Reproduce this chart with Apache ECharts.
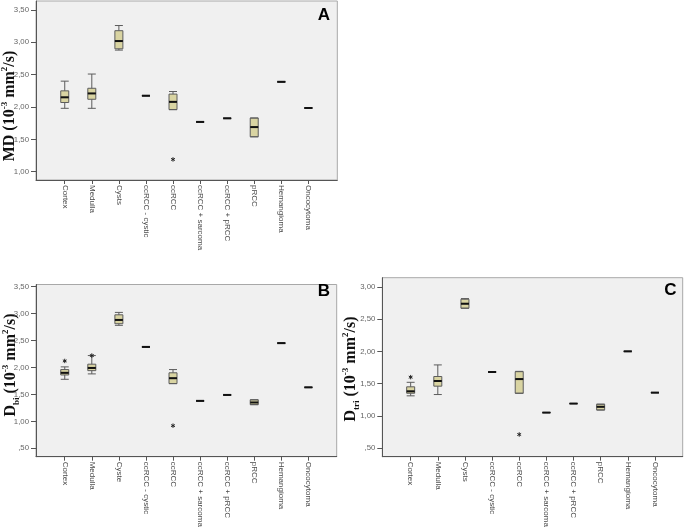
<!DOCTYPE html>
<html>
<head>
<meta charset="utf-8">
<script src="https://cdn.jsdelivr.net/npm/echarts@6/dist/echarts.min.js"></script>
<style>
html,body{margin:0;padding:0;background:#fff;}
#chart{width:685px;height:530px;}
</style>
</head>
<body>
<div id="chart"></div>
<script>
// ---- Data ----
var categoriesA = ['Cortex','Medulla','Cysts','ccRCC - cystic','ccRCC','ccRCC + sarcoma','ccRCC + pRCC','pRCC','Hemangioma','Oncocytoma'];
var categoriesB = ['Cortex','Medulla','Cyste','ccRCC - cystic','ccRCC','ccRCC + sarcoma','ccRCC + pRCC','pRCC','Hemangioma','Oncocytoma'];
var categoriesC = ['Cortex','Medulla','Cysts','ccRCC - cystic','ccRCC','ccRCC + sarcoma','ccRCC + pRCC','pRCC','Hemangioma','Oncocytoma'];

// [min, Q1, median, Q3, max]
var mdBoxes = [
  [1.98, 2.07, 2.15, 2.25, 2.40],
  [1.98, 2.12, 2.21, 2.29, 2.51],
  [2.88, 2.90, 3.02, 3.18, 3.26],
  [2.175, 2.175, 2.175, 2.175, 2.175],
  [1.96, 1.96, 2.08, 2.20, 2.24],
  [1.77, 1.77, 1.77, 1.77, 1.77],
  [1.825, 1.825, 1.825, 1.825, 1.825],
  [1.54, 1.54, 1.69, 1.83, 1.83],
  [2.39, 2.39, 2.39, 2.39, 2.39],
  [1.985, 1.985, 1.985, 1.985, 1.985]
];
var mdOutliers = [[4, 1.19]];

var dbiBoxes = [
  [1.78, 1.86, 1.90, 1.96, 2.01],
  [1.88, 1.94, 1.99, 2.06, 2.22],
  [2.78, 2.81, 2.88, 2.975, 3.02],
  [2.38, 2.38, 2.38, 2.38, 2.38],
  [1.70, 1.70, 1.80, 1.90, 1.96],
  [1.38, 1.38, 1.38, 1.38, 1.38],
  [1.49, 1.49, 1.49, 1.49, 1.49],
  [1.31, 1.31, 1.35, 1.40, 1.40],
  [2.45, 2.45, 2.45, 2.45, 2.45],
  [1.63, 1.63, 1.63, 1.63, 1.63]
];
var dbiOutliers = [[0, 2.12], [1, 2.22], [4, 0.92]];

var dtriBoxes = [
  [1.31, 1.35, 1.38, 1.45, 1.52],
  [1.33, 1.46, 1.54, 1.61, 1.79],
  [2.67, 2.67, 2.74, 2.81, 2.82],
  [1.68, 1.68, 1.68, 1.68, 1.68],
  [1.35, 1.35, 1.57, 1.685, 1.69],
  [1.05, 1.05, 1.05, 1.05, 1.05],
  [1.19, 1.19, 1.19, 1.19, 1.19],
  [1.09, 1.09, 1.14, 1.18, 1.18],
  [2.00, 2.00, 2.00, 2.00, 2.00],
  [1.36, 1.36, 1.36, 1.36, 1.36]
];
var dtriOutliers = [[0, 1.60], [4, 0.71]];

var ticksA = [1.0, 1.5, 2.0, 2.5, 3.0, 3.5];
var ticksB = [0.5, 1.0, 1.5, 2.0, 2.5, 3.0, 3.5];
var ticksC = [0.5, 1.0, 1.5, 2.0, 2.5, 3.0];

// ---- Layout ----
var panels = [
  { cats: categoriesA, boxes: mdBoxes, outliers: mdOutliers, ticks: ticksA,
    frame: {left: 36, top: 1, width: 301.3, height: 179}, inner: {left: 51.2, width: 270.7},
    min: 0.872, max: 3.639 },
  { cats: categoriesB, boxes: dbiBoxes, outliers: dbiOutliers, ticks: ticksB,
    frame: {left: 36, top: 284.5, width: 300.7, height: 172.2}, inner: {left: 51.2, width: 270.7},
    min: 0.345, max: 3.537 },
  { cats: categoriesC, boxes: dtriBoxes, outliers: dtriOutliers, ticks: ticksC,
    frame: {left: 382.3, top: 277.7, width: 300.4, height: 179}, inner: {left: 397.1, width: 271.4},
    min: 0.365, max: 3.144 }
];

var LABEL_FONT = 'Liberation Sans, Arial, sans-serif';
function fmt(v) {
  var s = v.toFixed(2).replace('.', ',');
  if (s.indexOf('0,') === 0) s = s.substring(1);
  return s;
}

var grids = [], xAxes = [], yAxes = [], series = [];
panels.forEach(function (p, i) {
  var fi = 2 * i, bi = 2 * i + 1;
  grids.push({
    left: p.frame.left, top: p.frame.top, width: p.frame.width, height: p.frame.height,
    show: true, backgroundColor: '#f0f0f0', borderColor: '#a8a8a8', borderWidth: 1,
    containLabel: false, outerBoundsMode: 'none'
  });
  grids.push({
    left: p.inner.left, top: p.frame.top, width: p.inner.width, height: p.frame.height,
    show: false, containLabel: false, outerBoundsMode: 'none'
  });
  xAxes.push({
    gridIndex: fi, type: 'value', min: 0, max: 1,
    axisLine: {show: true, lineStyle: {color: '#555', width: 1}},
    axisTick: {show: false}, axisLabel: {show: false}, splitLine: {show: false}
  });
  xAxes.push({
    gridIndex: bi, type: 'category', data: p.cats, boundaryGap: true,
    axisLine: {show: false},
    axisTick: {show: true, alignWithLabel: true, interval: 0, length: 4, lineStyle: {color: '#555'}},
    axisLabel: {show: true, interval: 0, rotate: -90, margin: 5, fontSize: 8,
      color: '#4a4a4a', fontFamily: LABEL_FONT},
    splitLine: {show: false}
  });
  yAxes.push({
    gridIndex: fi, type: 'value', min: p.min, max: p.max,
    axisLine: {show: true, lineStyle: {color: '#555', width: 1}},
    axisTick: {show: true, customValues: p.ticks, length: 5, lineStyle: {color: '#555'}},
    axisLabel: {show: true, customValues: p.ticks, margin: 7, fontSize: 7.8, color: '#666',
      fontFamily: LABEL_FONT, formatter: fmt},
    splitLine: {show: false}
  });
  yAxes.push({
    gridIndex: bi, type: 'value', min: p.min, max: p.max, show: false,
    splitLine: {show: false}
  });
  series.push({
    type: 'boxplot', xAxisIndex: bi, yAxisIndex: bi,
    data: p.boxes, boxWidth: [8, 8],
    itemStyle: {color: '#d9d4a2', borderColor: '#5c5c5c', borderWidth: 1},
    emphasis: {disabled: true}, silent: true, z: 2
  });
  series.push({
    type: 'custom', xAxisIndex: bi, yAxisIndex: bi, silent: true, z: 3,
    data: p.boxes.map(function (b, k) { return [k, b[2]]; }),
    renderItem: function (params, api) {
      var c = api.coord([api.value(0), api.value(1)]);
      return {type: 'line', shape: {x1: c[0] - 4, y1: c[1], x2: c[0] + 4, y2: c[1]},
        style: {stroke: '#111', lineWidth: 2}};
    }
  });
  series.push({
    type: 'custom', xAxisIndex: bi, yAxisIndex: bi, silent: true, z: 4,
    data: p.outliers,
    renderItem: function (params, api) {
      var c = api.coord([api.value(0), api.value(1)]);
      var r = 2.2, ch = [];
      [90, 30, -30].forEach(function (a) {
        var rad = a * Math.PI / 180;
        ch.push({type: 'line', shape: {x1: c[0] - r * Math.cos(rad), y1: c[1] - r * Math.sin(rad),
          x2: c[0] + r * Math.cos(rad), y2: c[1] + r * Math.sin(rad)},
          style: {stroke: '#222', lineWidth: 1}});
      });
      return {type: 'group', children: ch};
    }
  });
});

var serif = 'Liberation Serif, Times New Roman, serif';
var rich = {
  m: {fontSize: 16, fontWeight: 'bold', fontFamily: serif, fill: '#111', lineHeight: 20},
  sup: {fontSize: 9, fontWeight: 'bold', fontFamily: serif, fill: '#111', verticalAlign: 'top', lineHeight: 12},
  sub: {fontSize: 9, fontWeight: 'bold', fontFamily: serif, fill: '#111', verticalAlign: 'bottom', lineHeight: 10}
};
function yTitle(x, y, txt) {
  return {type: 'text', x: x, y: y, rotation: Math.PI / 2, silent: true,
    style: {text: txt, rich: rich, align: 'center', verticalAlign: 'middle'}};
}
function letter(x, y, t) {
  return {type: 'text', x: x, y: y, silent: true,
    style: {text: t, fontSize: 17, fontWeight: 'bold', fontFamily: LABEL_FONT, fill: '#000',
      align: 'center', verticalAlign: 'middle'}};
}

var chart = echarts.init(document.getElementById('chart'), null, {renderer: 'canvas'});
chart.setOption({
  animation: false,
  backgroundColor: '#fff',
  grid: grids, xAxis: xAxes, yAxis: yAxes, series: series,
  graphic: [
    yTitle(10, 106, '{m|MD (10}{sup|-3}{m| mm}{sup|2}{m|/s)}'),
    yTitle(11, 365, '{m|D}{sub|bi}{m| (10}{sup|-3}{m| mm}{sup|2}{m|/s)}'),
    yTitle(351, 369, '{m|D}{sub|tri}{m| (10}{sup|-3}{m| mm}{sup|2}{m|/s)}'),
    letter(324, 15, 'A'),
    letter(324, 291, 'B'),
    letter(670.5, 290, 'C')
  ]
});
</script>
</body>
</html>
